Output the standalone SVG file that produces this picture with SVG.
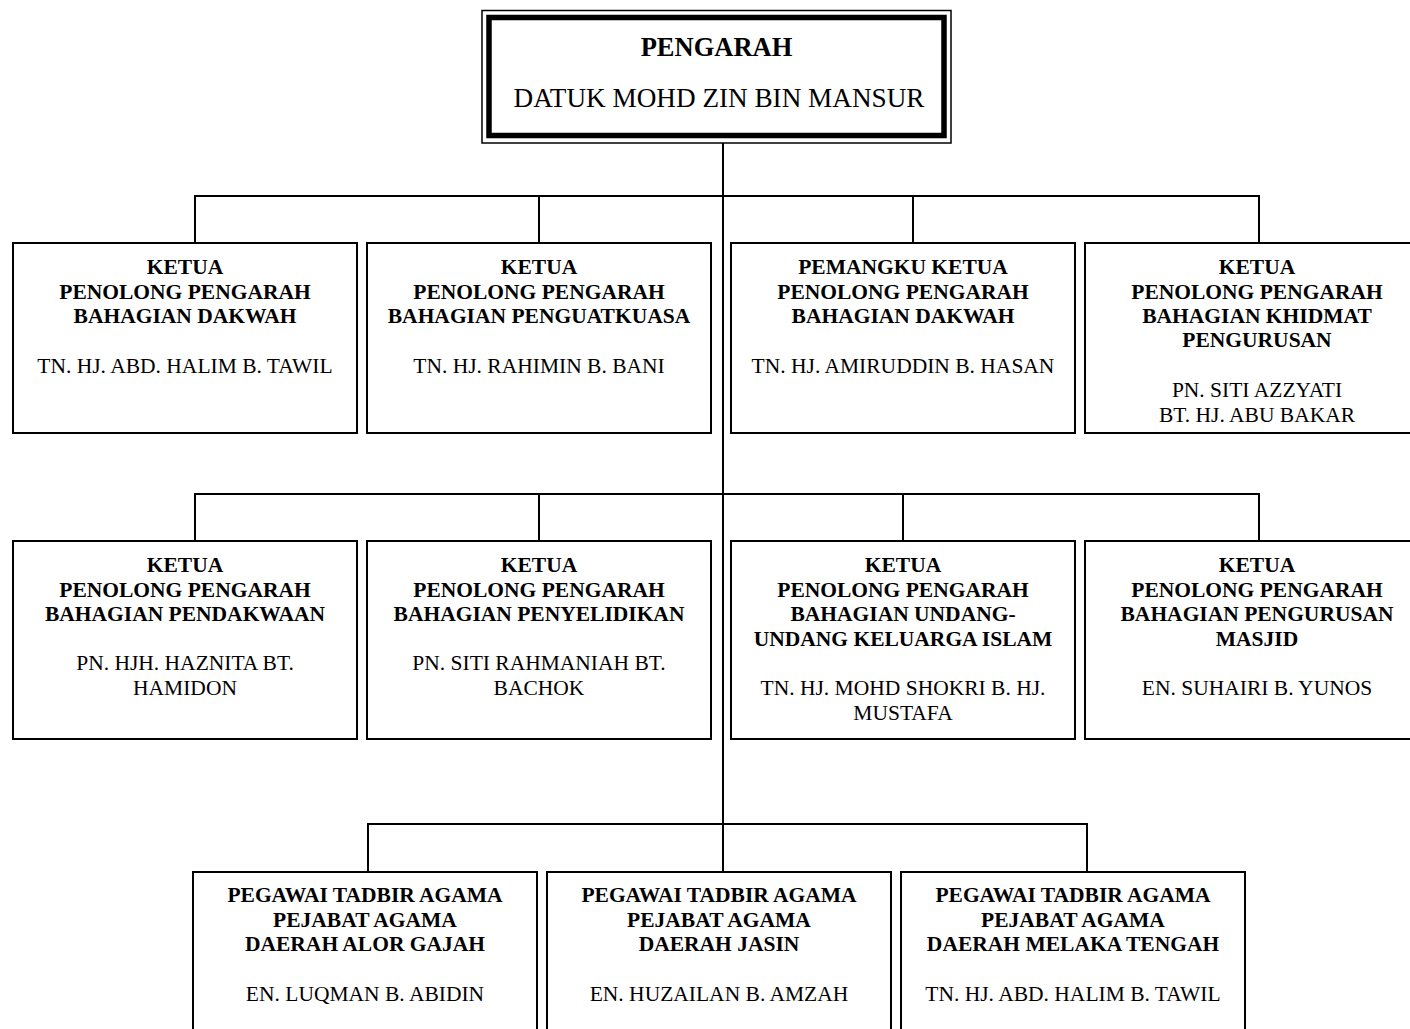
<svg xmlns="http://www.w3.org/2000/svg" width="1410" height="1029" viewBox="0 0 1410 1029">
<style>
.box{fill:#fff;stroke:#000;stroke-width:2}
.ln{fill:none;stroke:#000;stroke-width:2}
text{font-family:"Liberation Serif","Times New Roman",serif;font-size:21.5px;fill:#000;text-anchor:middle}
.b{font-weight:bold}
.tb{font-size:26.5px;font-weight:bold}
.tn{font-size:27.2px}
</style>
<rect width="1410" height="1029" fill="#fff"/>
<g id="connectors">
<path class="ln" d="M723,143 V824"/>
<path class="ln" d="M195,243 V196 H1259 V243 M539,196 V243 M913,196 V243"/>
<path class="ln" d="M195,541 V494 H1259 V541 M539,494 V541 M903,494 V541"/>
<path class="ln" d="M368,872 V824 H1087 V872 M723,824 V872"/>
</g>
<g id="pengarah">
<rect x="482" y="10.5" width="469" height="132.5" fill="#fff" stroke="#000" stroke-width="1.5"/>
<rect x="489" y="17.5" width="455" height="118" fill="none" stroke="#000" stroke-width="5.5"/>
<text class="tb" x="716.5" y="56">PENGARAH</text>
<text class="tn" x="719" y="107">DATUK MOHD ZIN BIN MANSUR</text>
</g>
<g id="dakwah">
<rect class="box" x="13" y="243" width="344" height="190"/>
<text class="b" x="185" y="274">KETUA</text>
<text class="b" x="185" y="298.5">PENOLONG PENGARAH</text>
<text class="b" x="185" y="323">BAHAGIAN DAKWAH</text>
<text x="185" y="373">TN. HJ. ABD. HALIM B. TAWIL</text>
</g>
<g id="penguatkuasa">
<rect class="box" x="367" y="243" width="344" height="190"/>
<text class="b" x="539" y="274">KETUA</text>
<text class="b" x="539" y="298.5">PENOLONG PENGARAH</text>
<text class="b" x="539" y="323">BAHAGIAN PENGUATKUASA</text>
<text x="539" y="373">TN. HJ. RAHIMIN B. BANI</text>
</g>
<g id="pemangku-dakwah">
<rect class="box" x="731" y="243" width="344" height="190"/>
<text class="b" x="903" y="274">PEMANGKU KETUA</text>
<text class="b" x="903" y="298.5">PENOLONG PENGARAH</text>
<text class="b" x="903" y="323">BAHAGIAN DAKWAH</text>
<text x="903" y="373">TN. HJ. AMIRUDDIN B. HASAN</text>
</g>
<g id="khidmat-pengurusan">
<rect class="box" x="1085" y="243" width="340" height="190"/>
<text class="b" x="1257" y="274">KETUA</text>
<text class="b" x="1257" y="298.5">PENOLONG PENGARAH</text>
<text class="b" x="1257" y="323">BAHAGIAN KHIDMAT</text>
<text class="b" x="1257" y="347">PENGURUSAN</text>
<text x="1257" y="397">PN. SITI AZZYATI</text>
<text x="1257" y="421.5">BT. HJ. ABU BAKAR</text>
</g>
<g id="pendakwaan">
<rect class="box" x="13" y="541" width="344" height="198"/>
<text class="b" x="185" y="572">KETUA</text>
<text class="b" x="185" y="596.5">PENOLONG PENGARAH</text>
<text class="b" x="185" y="621">BAHAGIAN PENDAKWAAN</text>
<text x="185" y="670">PN. HJH. HAZNITA BT.</text>
<text x="185" y="694.5">HAMIDON</text>
</g>
<g id="penyelidikan">
<rect class="box" x="367" y="541" width="344" height="198"/>
<text class="b" x="539" y="572">KETUA</text>
<text class="b" x="539" y="596.5">PENOLONG PENGARAH</text>
<text class="b" x="539" y="621">BAHAGIAN PENYELIDIKAN</text>
<text x="539" y="670">PN. SITI RAHMANIAH BT.</text>
<text x="539" y="694.5">BACHOK</text>
</g>
<g id="undang-keluarga">
<rect class="box" x="731" y="541" width="344" height="198"/>
<text class="b" x="903" y="572">KETUA</text>
<text class="b" x="903" y="596.5">PENOLONG PENGARAH</text>
<text class="b" x="903" y="621">BAHAGIAN UNDANG-</text>
<text class="b" x="903" y="645.5">UNDANG KELUARGA ISLAM</text>
<text x="903" y="695">TN. HJ. MOHD SHOKRI B. HJ.</text>
<text x="903" y="719.5">MUSTAFA</text>
</g>
<g id="masjid">
<rect class="box" x="1085" y="541" width="340" height="198"/>
<text class="b" x="1257" y="572">KETUA</text>
<text class="b" x="1257" y="596.5">PENOLONG PENGARAH</text>
<text class="b" x="1257" y="621">BAHAGIAN PENGURUSAN</text>
<text class="b" x="1257" y="645.5">MASJID</text>
<text x="1257" y="694.5">EN. SUHAIRI B. YUNOS</text>
</g>
<g id="alor-gajah">
<rect class="box" x="193" y="872" width="344" height="170"/>
<text class="b" x="365" y="902">PEGAWAI TADBIR AGAMA</text>
<text class="b" x="365" y="926.5">PEJABAT AGAMA</text>
<text class="b" x="365" y="951">DAERAH ALOR GAJAH</text>
<text x="365" y="1000.5">EN. LUQMAN B. ABIDIN</text>
</g>
<g id="jasin">
<rect class="box" x="547" y="872" width="344" height="170"/>
<text class="b" x="719" y="902">PEGAWAI TADBIR AGAMA</text>
<text class="b" x="719" y="926.5">PEJABAT AGAMA</text>
<text class="b" x="719" y="951">DAERAH JASIN</text>
<text x="719" y="1000.5">EN. HUZAILAN B. AMZAH</text>
</g>
<g id="melaka-tengah">
<rect class="box" x="901" y="872" width="344" height="170"/>
<text class="b" x="1073" y="902">PEGAWAI TADBIR AGAMA</text>
<text class="b" x="1073" y="926.5">PEJABAT AGAMA</text>
<text class="b" x="1073" y="951">DAERAH MELAKA TENGAH</text>
<text x="1073" y="1000.5">TN. HJ. ABD. HALIM B. TAWIL</text>
</g>
</svg>
